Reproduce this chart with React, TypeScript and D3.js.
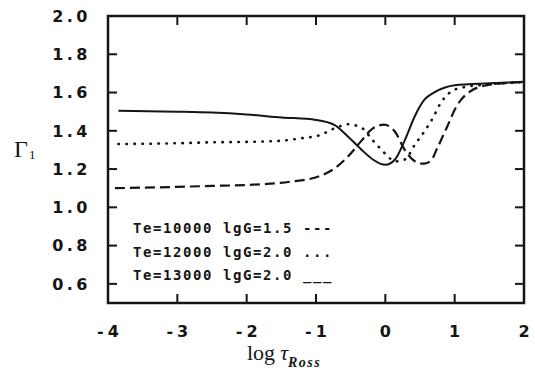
import React from "react";
import * as d3 from "d3";

const W = 535;
const H = 373;

const xTicks = [-4, -3, -2, -1, 0, 1, 2];
const yTicks = [0.6, 0.8, 1.0, 1.2, 1.4, 1.6, 1.8, 2.0];

const legendLabels = ["Te=10000 lgG=1.5", "Te=12000 lgG=2.0", "Te=13000 lgG=2.0"];
const legendKeys = ["---", "...", "___"];

// [log tau_Ross, Gamma_1]
const dashed10000: [number, number][] = [
  [-3.9, 1.1], [-3, 1.107], [-2.5, 1.112], [-2, 1.117], [-1.37, 1.134], [-0.94, 1.164],
  [-0.73, 1.204], [-0.54, 1.265], [-0.34, 1.35], [-0.18, 1.413], [-0.02, 1.432],
  [0.14, 1.395], [0.28, 1.3], [0.43, 1.24], [0.55, 1.228], [0.66, 1.245], [0.75, 1.31],
  [0.89, 1.42], [1.03, 1.53], [1.22, 1.605], [1.47, 1.638], [2.0, 1.655],
];
const dotted12000: [number, number][] = [
  [-3.85, 1.331], [-3, 1.335], [-2.5, 1.34], [-2, 1.342], [-1.5, 1.348], [-1.23, 1.36],
  [-0.94, 1.378], [-0.73, 1.413], [-0.54, 1.434], [-0.34, 1.415], [-0.18, 1.35],
  [0.0, 1.28], [0.14, 1.24], [0.28, 1.25], [0.43, 1.33], [0.57, 1.4], [0.69, 1.47],
  [0.79, 1.54], [0.93, 1.6], [1.08, 1.624], [1.5, 1.643], [2.0, 1.655],
];
const solid13000: [number, number][] = [
  [-3.85, 1.505], [-3, 1.5], [-2.5, 1.495], [-2, 1.485], [-1.5, 1.47], [-1.0, 1.457],
  [-0.73, 1.43], [-0.54, 1.37], [-0.34, 1.3], [-0.18, 1.25], [0.0, 1.222], [0.14, 1.25],
  [0.28, 1.35], [0.43, 1.48], [0.57, 1.565], [0.7, 1.6], [0.85, 1.625], [1.0, 1.638],
  [1.5, 1.648], [2.0, 1.656],
];

const series = [
  { data: dashed10000, dash: "10,5", width: 2.2, cap: "butt" },
  { data: dotted12000, dash: "0.5,7.5", width: 2.6, cap: "round" },
  { data: solid13000, dash: "none", width: 2, cap: "butt" },
];

export default function App() {
  const x = d3.scaleLinear().domain([-4, 2]).range([108, 524]);
  const y = d3.scaleLinear().domain([0.5, 2.0]).range([303, 16]);
  const line = d3
    .line<[number, number]>()
    .x((d) => x(d[0]))
    .y((d) => y(d[1]))
    .curve(d3.curveMonotoneX);
  const tl = 9;
  const ink = "#151515";
  const tickFont = { fontFamily: "DejaVu Sans", fontWeight: 700, fontSize: 16 } as const;

  return (
    <svg width={W} height={H} style={{ position: "absolute", left: 0, top: 0, background: "#fff" }}>
      <rect x={0} y={0} width={W} height={H} fill="#fff" />
      {series.map((s, i) => (
        <path
          key={i}
          d={line(s.data) || ""}
          fill="none"
          stroke={ink}
          strokeWidth={s.width}
          strokeDasharray={s.dash}
          strokeLinecap={s.cap as any}
        />
      ))}
      {/* frame */}
      <rect
        x={x(-4)}
        y={y(2)}
        width={x(2) - x(-4)}
        height={y(0.5) - y(2)}
        fill="none"
        stroke={ink}
        strokeWidth={2.5}
      />
      {xTicks.map((t) => (
        <g key={"x" + t}>
          <line x1={x(t)} x2={x(t)} y1={y(0.5)} y2={y(0.5) - tl} stroke={ink} strokeWidth={2} />
          <line x1={x(t)} x2={x(t)} y1={y(2)} y2={y(2) + tl} stroke={ink} strokeWidth={2} />
          <text x={x(t) + 2} y={337} textAnchor="middle" fill={ink} letterSpacing={4} {...tickFont}>
            {t < 0 ? "-" + Math.abs(t) : String(t)}
          </text>
        </g>
      ))}
      {yTicks.map((v) => (
        <g key={"y" + v}>
          <line x1={x(-4)} x2={x(-4) + tl} y1={y(v)} y2={y(v)} stroke={ink} strokeWidth={2} />
          <line x1={x(2)} x2={x(2) - tl} y1={y(v)} y2={y(v)} stroke={ink} strokeWidth={2} />
          <text x={91} y={y(v)} dy="0.36em" textAnchor="end" fill={ink} letterSpacing={3.5} {...tickFont}>
            {v.toFixed(1)}
          </text>
        </g>
      ))}
      {legendLabels.map((lab, i) => (
        <text
          key={"l" + i}
          x={133}
          y={233 + i * 23.5}
          fill={ink}
          fontFamily="DejaVu Sans Mono"
          fontWeight={700}
          fontSize={14}
          letterSpacing={1.57}
          style={{ whiteSpace: "pre" }}
        >
          {lab + " " + legendKeys[i]}
        </text>
      ))}
      {/* y label */}
      <text x={14} y={157} fontFamily="Liberation Serif" fontSize={24} fill={ink}>
        Γ
        <tspan fontSize={13} dy={2} dx={1}>1</tspan>
      </text>
      {/* x label */}
      <text x={247} y={360} fontFamily="Liberation Serif" fontSize={22} fill={ink}>
        log
        <tspan dx={5} fontStyle="italic">τ</tspan>
        <tspan dy={7} fontSize={14} fontStyle="italic" fontWeight={700} letterSpacing={1.5}>Ross</tspan>
      </text>
    </svg>
  );
}
